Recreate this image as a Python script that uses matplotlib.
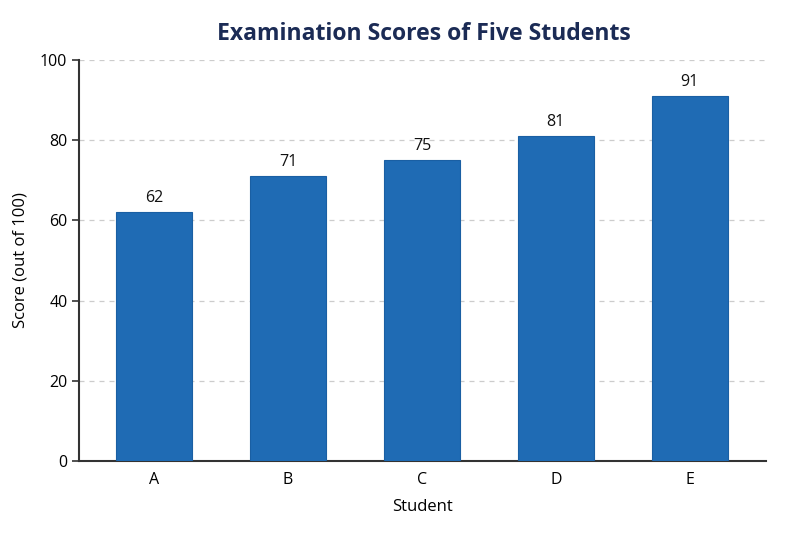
import matplotlib.pyplot as plt

plt.rcParams['font.family'] = ['Open Sans', 'DejaVu Sans']

students = ["A", "B", "C", "D", "E"]
scores = [62, 71, 75, 81, 91]
y_ticks = [0, 20, 40, 60, 80, 100]

fig = plt.figure(figsize=(8, 5.33), dpi=100)
ax = fig.add_axes([0.099, 0.135, 0.8585, 0.7524])

x = range(len(students))
bars = ax.bar(x, scores, width=0.57, color="#1f6bb4", edgecolor="#1a5fa3", linewidth=0.8, zorder=3)

for xi, s in zip(x, scores):
    ax.text(xi, s + 1.5, str(s), ha="center", va="bottom", fontsize=11.5, color="#111111")

ax.set_xlim(-0.56, 4.57)
ax.set_ylim(0, 100)
ax.set_yticks(y_ticks)
ax.set_xticks(list(x))
ax.set_xticklabels(students)
ax.tick_params(axis="x", length=0, pad=8, labelsize=11.5)
ax.tick_params(axis="y", length=5, width=1.2, color="#333333", labelsize=11.5)
ax.grid(axis="y", linestyle=(0, (4, 4)), color="#cccccc", linewidth=0.9, zorder=0)

for side in ["top", "right"]:
    ax.spines[side].set_visible(False)
for side in ["left", "bottom"]:
    ax.spines[side].set_linewidth(1.5)
    ax.spines[side].set_color("#333333")

ax.set_xlabel("Student", fontsize=12, labelpad=8)
ax.set_ylabel("Score (out of 100)", fontsize=12, labelpad=8)
fig.text(0.53, 0.937, "Examination Scores of Five Students", ha="center", va="center",
         fontsize=16.6, fontweight="bold", color="#1b2b55")

fig.savefig("out.png", dpi=100)
